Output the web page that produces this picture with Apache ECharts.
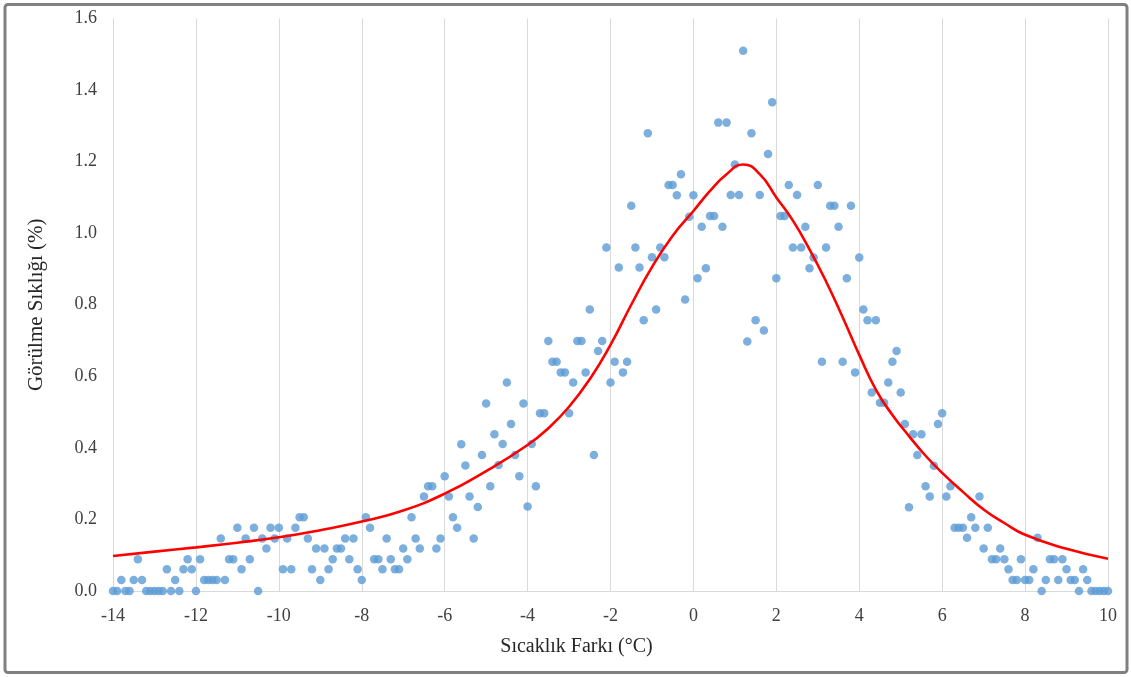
<!DOCTYPE html>
<html>
<head>
<meta charset="utf-8">
<title>Görülme Sıklığı</title>
<script src="https://cdn.jsdelivr.net/npm/echarts@6/dist/echarts.min.js"></script>
<style>
  html, body { margin: 0; padding: 0; background: #ffffff; }
  #chart { width: 1131px; height: 677px; }
</style>
</head>
<body>
<div id="chart"></div>
<script>
// Temperature difference (°C), one observation every 0.1 °C
const tempDiff = [
  -14.0, -13.9, -13.8, -13.7, -13.6, -13.5, -13.4, -13.3, -13.2, -13.1,
  -13.0, -12.9, -12.8, -12.7, -12.6, -12.5, -12.4, -12.3, -12.2, -12.1,
  -12.0, -11.9, -11.8, -11.7, -11.6, -11.5, -11.4, -11.3, -11.2, -11.1,
  -11.0, -10.9, -10.8, -10.7, -10.6, -10.5, -10.4, -10.3, -10.2, -10.1,
  -10.0, -9.9, -9.8, -9.7, -9.6, -9.5, -9.4, -9.3, -9.2, -9.1,
  -9.0, -8.9, -8.8, -8.7, -8.6, -8.5, -8.4, -8.3, -8.2, -8.1,
  -8.0, -7.9, -7.8, -7.7, -7.6, -7.5, -7.4, -7.3, -7.2, -7.1,
  -7.0, -6.9, -6.8, -6.7, -6.6, -6.5, -6.4, -6.3, -6.2, -6.1,
  -6.0, -5.9, -5.8, -5.7, -5.6, -5.5, -5.4, -5.3, -5.2, -5.1,
  -5.0, -4.9, -4.8, -4.7, -4.6, -4.5, -4.4, -4.3, -4.2, -4.1,
  -4.0, -3.9, -3.8, -3.7, -3.6, -3.5, -3.4, -3.3, -3.2, -3.1,
  -3.0, -2.9, -2.8, -2.7, -2.6, -2.5, -2.4, -2.3, -2.2, -2.1,
  -2.0, -1.9, -1.8, -1.7, -1.6, -1.5, -1.4, -1.3, -1.2, -1.1,
  -1.0, -0.9, -0.8, -0.7, -0.6, -0.5, -0.4, -0.3, -0.2, -0.1,
  0.0, 0.1, 0.2, 0.3, 0.4, 0.5, 0.6, 0.7, 0.8, 0.9,
  1.0, 1.1, 1.2, 1.3, 1.4, 1.5, 1.6, 1.7, 1.8, 1.9,
  2.0, 2.1, 2.2, 2.3, 2.4, 2.5, 2.6, 2.7, 2.8, 2.9,
  3.0, 3.1, 3.2, 3.3, 3.4, 3.5, 3.6, 3.7, 3.8, 3.9,
  4.0, 4.1, 4.2, 4.3, 4.4, 4.5, 4.6, 4.7, 4.8, 4.9,
  5.0, 5.1, 5.2, 5.3, 5.4, 5.5, 5.6, 5.7, 5.8, 5.9,
  6.0, 6.1, 6.2, 6.3, 6.4, 6.5, 6.6, 6.7, 6.8, 6.9,
  7.0, 7.1, 7.2, 7.3, 7.4, 7.5, 7.6, 7.7, 7.8, 7.9,
  8.0, 8.1, 8.2, 8.3, 8.4, 8.5, 8.6, 8.7, 8.8, 8.9,
  9.0, 9.1, 9.2, 9.3, 9.4, 9.5, 9.6, 9.7, 9.8, 9.9,
  10.0
];

// Observed frequency (%) for each temperature difference
const frequency = [
  0, 0, 0.031, 0, 0, 0.031, 0.089, 0.031, 0, 0,
  0, 0, 0, 0.061, 0, 0.031, 0, 0.061, 0.089, 0.061,
  0, 0.089, 0.031, 0.031, 0.031, 0.031, 0.147, 0.031, 0.089, 0.089,
  0.177, 0.061, 0.147, 0.089, 0.177, 0, 0.147, 0.119, 0.177, 0.147,
  0.177, 0.061, 0.147, 0.061, 0.177, 0.206, 0.206, 0.147, 0.061, 0.119,
  0.031, 0.119, 0.061, 0.089, 0.119, 0.119, 0.147, 0.089, 0.147, 0.061,
  0.031, 0.206, 0.177, 0.089, 0.089, 0.061, 0.147, 0.089, 0.061, 0.061,
  0.119, 0.089, 0.206, 0.147, 0.119, 0.264, 0.293, 0.293, 0.119, 0.147,
  0.321, 0.264, 0.206, 0.177, 0.410, 0.351, 0.264, 0.147, 0.235, 0.380,
  0.524, 0.293, 0.438, 0.352, 0.411, 0.583, 0.467, 0.380, 0.321, 0.524,
  0.236, 0.411, 0.293, 0.497, 0.497, 0.699, 0.641, 0.641, 0.611, 0.611,
  0.497, 0.583, 0.699, 0.699, 0.611, 0.787, 0.380, 0.671, 0.699, 0.960,
  0.583, 0.641, 0.904, 0.611, 0.641, 1.077, 0.960, 0.904, 0.757, 1.279,
  0.933, 0.787, 0.960, 0.933, 1.135, 1.135, 1.106, 1.165, 0.815, 1.046,
  1.106, 0.874, 1.018, 0.902, 1.048, 1.048, 1.309, 1.018, 1.309, 1.107,
  1.192, 1.107, 1.510, 0.697, 1.279, 0.757, 1.107, 0.728, 1.221, 1.366,
  0.874, 1.048, 1.048, 1.135, 0.960, 1.107, 0.960, 1.018, 0.902, 0.932,
  1.135, 0.641, 0.960, 1.077, 1.077, 1.018, 0.641, 0.874, 1.077, 0.611,
  0.932, 0.787, 0.757, 0.555, 0.757, 0.526, 0.526, 0.583, 0.641, 0.671,
  0.555, 0.467, 0.234, 0.438, 0.380, 0.438, 0.293, 0.264, 0.350, 0.467,
  0.497, 0.264, 0.293, 0.177, 0.177, 0.177, 0.149, 0.206, 0.177, 0.264,
  0.119, 0.177, 0.089, 0.089, 0.119, 0.089, 0.061, 0.031, 0.031, 0.089,
  0.031, 0.031, 0.061, 0.149, 0, 0.031, 0.089, 0.089, 0.031, 0.089,
  0.061, 0.031, 0.031, 0, 0.061, 0.031, 0, 0, 0, 0,
  0
];

// Fitted distribution curve
const fitX = [
  -14, -13, -12, -11, -10, -9, -8, -7, -6, -5, -4, -3.5, -3, -2.5, -2, -1.5,
  -1, -0.5, 0, 0.4, 0.8, 1.2, 1.6, 2.0, 2.4, 2.8, 3.2, 3.6, 4.0, 4.4, 4.8,
  5.2, 5.6, 6.0, 6.5, 7, 7.5, 8, 9, 10
];
const fitY = [
  0.098, 0.110, 0.122, 0.135, 0.150, 0.170, 0.194, 0.225, 0.272, 0.335,
  0.408, 0.455, 0.515, 0.592, 0.688, 0.800, 0.905, 0.993, 1.062, 1.118,
  1.165, 1.192, 1.165, 1.100, 1.035, 0.955, 0.865, 0.765, 0.660, 0.563,
  0.492, 0.433, 0.378, 0.330, 0.277, 0.228, 0.190, 0.157, 0.118, 0.090
];

// Axis settings
const xMin = -14, xMax = 10, xStep = 2;
const yMin = 0, yMax = 1.6, yStep = 0.2;
const xTitle = 'Sıcaklık Farkı (°C)';
const yTitle = 'Görülme Sıklığı (%)';

const scatterData = tempDiff.map((x, i) => [x, frequency[i]]);
const fitData = fitX.map((x, i) => [x, fitY[i]]);

const serif = '"Liberation Serif", "DejaVu Serif", serif';

const chart = echarts.init(document.getElementById('chart'), null, { renderer: 'canvas' });

chart.setOption({
  animation: false,
  backgroundColor: '#ffffff',
  grid: { left: 113, right: 23, top: 18.5, bottom: 86 },
  xAxis: {
    type: 'value',
    min: xMin,
    max: xMax,
    interval: xStep,
    name: xTitle,
    nameLocation: 'middle',
    nameGap: 46,
    nameTextStyle: {
      fontFamily: serif, fontSize: 20, color: '#262626',
      padding: [0, 68, 0, 0]
    },
    axisLine: { show: true, lineStyle: { color: '#d9d9d9', width: 1 } },
    axisTick: { show: false },
    axisLabel: { fontFamily: serif, fontSize: 18, color: '#404040', margin: 16 },
    splitLine: { show: true, lineStyle: { color: '#d9d9d9', width: 1 } }
  },
  yAxis: {
    type: 'value',
    min: yMin,
    max: yMax,
    interval: yStep,
    name: yTitle,
    nameLocation: 'middle',
    nameGap: 66,
    nameRotate: 90,
    nameTextStyle: { fontFamily: serif, fontSize: 21, color: '#262626' },
    axisLine: { show: false },
    axisTick: { show: false },
    axisLabel: {
      fontFamily: serif, fontSize: 18, color: '#404040', margin: 16,
      formatter: v => v.toFixed(1)
    },
    splitLine: { show: false }
  },
  graphic: [{
    type: 'rect',
    shape: { x: 5, y: 4.5, width: 1122, height: 668, r: 3 },
    style: { fill: 'none', stroke: '#808080', lineWidth: 3 },
    silent: true,
    z: 100
  }],
  series: [
    {
      name: 'Gözlem',
      type: 'scatter',
      data: scatterData,
      symbol: 'circle',
      symbolSize: 8.5,
      itemStyle: { color: '#5b9bd5' },
      z: 2
    },
    {
      name: 'Dağılım',
      type: 'line',
      data: fitData,
      smooth: 0.5,
      showSymbol: false,
      lineStyle: { color: '#ff0000', width: 2.6 },
      z: 3
    }
  ]
});
</script>
</body>
</html>
